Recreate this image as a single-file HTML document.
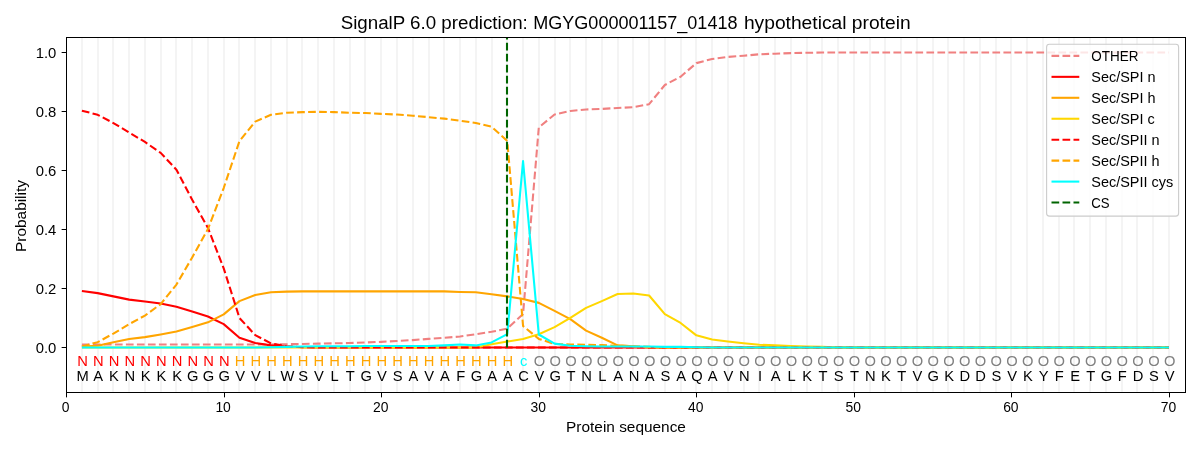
<!DOCTYPE html><html><head><meta charset="utf-8"><style>html,body{margin:0;padding:0;background:#fff;width:1200px;height:450px;overflow:hidden}svg{display:block;will-change:transform}text{font-family:"Liberation Sans",sans-serif}</style></head><body>
<svg width="1200" height="450" viewBox="0 0 1200 450">
<rect width="1200" height="450" fill="#fff"/>
<path d="M82.00 37.44V391.76 M98.00 37.44V391.76 M113.00 37.44V391.76 M129.00 37.44V391.76 M145.00 37.44V391.76 M161.00 37.44V391.76 M176.00 37.44V391.76 M192.00 37.44V391.76 M208.00 37.44V391.76 M224.00 37.44V391.76 M239.00 37.44V391.76 M255.00 37.44V391.76 M271.00 37.44V391.76 M287.00 37.44V391.76 M302.00 37.44V391.76 M318.00 37.44V391.76 M334.00 37.44V391.76 M350.00 37.44V391.76 M365.00 37.44V391.76 M381.00 37.44V391.76 M397.00 37.44V391.76 M413.00 37.44V391.76 M429.00 37.44V391.76 M444.00 37.44V391.76 M460.00 37.44V391.76 M476.00 37.44V391.76 M492.00 37.44V391.76 M507.00 37.44V391.76 M523.00 37.44V391.76 M539.00 37.44V391.76 M555.00 37.44V391.76 M570.00 37.44V391.76 M586.00 37.44V391.76 M602.00 37.44V391.76 M618.00 37.44V391.76 M633.00 37.44V391.76 M649.00 37.44V391.76 M665.00 37.44V391.76 M681.00 37.44V391.76 M696.00 37.44V391.76 M712.00 37.44V391.76 M728.00 37.44V391.76 M744.00 37.44V391.76 M759.00 37.44V391.76 M775.00 37.44V391.76 M791.00 37.44V391.76 M807.00 37.44V391.76 M822.00 37.44V391.76 M838.00 37.44V391.76 M854.00 37.44V391.76 M870.00 37.44V391.76 M885.00 37.44V391.76 M901.00 37.44V391.76 M917.00 37.44V391.76 M933.00 37.44V391.76 M948.00 37.44V391.76 M964.00 37.44V391.76 M980.00 37.44V391.76 M996.00 37.44V391.76 M1011.00 37.44V391.76 M1027.00 37.44V391.76 M1043.00 37.44V391.76 M1059.00 37.44V391.76 M1074.00 37.44V391.76 M1090.00 37.44V391.76 M1106.00 37.44V391.76 M1122.00 37.44V391.76 M1137.00 37.44V391.76 M1153.00 37.44V391.76 M1169.00 37.44V391.76" stroke="#f4f4f4" stroke-width="2" fill="none"/>
<polyline points="81.91,344.52 97.66,344.52 113.42,344.52 129.17,344.52 144.93,344.52 160.68,344.52 176.44,344.52 192.19,344.52 207.95,344.52 223.70,344.52 239.46,344.52 255.21,344.52 270.97,344.52 286.72,344.22 302.48,343.93 318.23,343.63 333.99,343.34 349.74,343.04 365.50,342.45 381.25,341.86 397.00,340.97 412.76,340.09 428.51,338.91 444.27,337.73 460.02,336.55 475.78,334.18 491.54,331.82 507.29,328.57 523.05,314.10 538.80,127.49 554.56,114.50 570.31,110.96 586.07,109.48 601.82,108.89 617.58,108.01 633.33,107.12 649.09,104.17 664.84,84.97 680.60,76.71 696.35,63.12 712.11,58.99 727.86,56.92 743.62,55.74 759.37,54.27 775.12,53.68 790.88,53.09 806.63,52.79 822.39,52.50 838.14,52.50 853.90,52.50 869.65,52.50 885.41,52.50 901.16,52.50 916.92,52.50 932.68,52.50 948.43,52.50 964.19,52.50 979.94,52.50 995.70,52.50 1011.45,52.50 1027.21,52.50 1042.96,52.50 1058.72,52.50 1074.47,52.50 1090.23,52.50 1105.98,52.50 1121.74,52.50 1137.49,52.50 1153.25,52.50 1169.00,52.50" fill="none" stroke="#f08080" stroke-width="2.08" stroke-linejoin="round" stroke-linecap="butt" stroke-dasharray="7.7 3.3"/>
<polyline points="81.91,291.07 97.66,293.14 113.42,296.39 129.17,299.64 144.93,301.41 160.68,303.47 176.44,306.72 192.19,311.45 207.95,316.47 223.70,324.14 239.46,337.73 255.21,343.04 270.97,345.40 286.72,346.58 302.48,347.17 318.23,347.47 333.99,347.47 349.74,347.47 365.50,347.47 381.25,347.47 397.00,347.47 412.76,347.47 428.51,347.47 444.27,347.47 460.02,347.47 475.78,347.47 491.54,347.47 507.29,347.47 523.05,347.47 538.80,347.47 554.56,347.47 570.31,347.47 586.07,347.47 601.82,347.47 617.58,347.47 633.33,347.47 649.09,347.47 664.84,347.47 680.60,347.47 696.35,347.47 712.11,347.47 727.86,347.47 743.62,347.47 759.37,347.47 775.12,347.47 790.88,347.47 806.63,347.47 822.39,347.47 838.14,347.47 853.90,347.47 869.65,347.47 885.41,347.47 901.16,347.47 916.92,347.47 932.68,347.47 948.43,347.47 964.19,347.47 979.94,347.47 995.70,347.47 1011.45,347.47 1027.21,347.47 1042.96,347.47 1058.72,347.47 1074.47,347.47 1090.23,347.47 1105.98,347.47 1121.74,347.47 1137.49,347.47 1153.25,347.47 1169.00,347.47" fill="none" stroke="#ff0000" stroke-width="2.08" stroke-linejoin="round" stroke-linecap="butt"/>
<polyline points="81.91,346.58 97.66,345.70 113.42,342.16 129.17,338.91 144.93,337.14 160.68,334.48 176.44,331.53 192.19,327.10 207.95,322.37 223.70,314.40 239.46,301.11 255.21,294.91 270.97,292.25 286.72,291.66 302.48,291.37 318.23,291.37 333.99,291.37 349.74,291.37 365.50,291.37 381.25,291.37 397.00,291.37 412.76,291.37 428.51,291.37 444.27,291.37 460.02,291.96 475.78,292.25 491.54,294.32 507.29,296.39 523.05,299.05 538.80,302.88 554.56,310.86 570.31,319.12 586.07,330.64 601.82,337.73 617.58,345.40 633.33,346.29 649.09,347.47 664.84,347.47 680.60,347.47 696.35,347.47 712.11,347.47 727.86,347.47 743.62,347.47 759.37,347.47 775.12,347.47 790.88,347.47 806.63,347.47 822.39,347.47 838.14,347.47 853.90,347.47 869.65,347.47 885.41,347.47 901.16,347.47 916.92,347.47 932.68,347.47 948.43,347.47 964.19,347.47 979.94,347.47 995.70,347.47 1011.45,347.47 1027.21,347.47 1042.96,347.47 1058.72,347.47 1074.47,347.47 1090.23,347.47 1105.98,347.47 1121.74,347.47 1137.49,347.47 1153.25,347.47 1169.00,347.47" fill="none" stroke="#ffa500" stroke-width="2.08" stroke-linejoin="round" stroke-linecap="butt"/>
<polyline points="81.91,347.47 97.66,347.47 113.42,347.47 129.17,347.47 144.93,347.47 160.68,347.47 176.44,347.47 192.19,347.47 207.95,347.47 223.70,347.47 239.46,347.47 255.21,347.47 270.97,347.47 286.72,347.47 302.48,347.47 318.23,347.47 333.99,347.47 349.74,347.47 365.50,347.47 381.25,347.47 397.00,347.47 412.76,347.47 428.51,347.47 444.27,347.47 460.02,347.47 475.78,347.47 491.54,344.22 507.29,341.56 523.05,338.91 538.80,334.18 554.56,327.10 570.31,317.94 586.07,307.90 601.82,301.11 617.58,294.03 633.33,293.44 649.09,295.50 664.84,314.10 680.60,322.96 696.35,335.36 712.11,339.50 727.86,341.56 743.62,343.34 759.37,344.81 775.12,345.40 790.88,345.99 806.63,346.58 822.39,346.88 838.14,347.47 853.90,347.47 869.65,347.47 885.41,347.47 901.16,347.47 916.92,347.47 932.68,347.47 948.43,347.47 964.19,347.47 979.94,347.47 995.70,347.47 1011.45,347.47 1027.21,347.47 1042.96,347.47 1058.72,347.47 1074.47,347.47 1090.23,347.47 1105.98,347.47 1121.74,347.47 1137.49,347.47 1153.25,347.47 1169.00,347.47" fill="none" stroke="#ffd700" stroke-width="2.08" stroke-linejoin="round" stroke-linecap="butt"/>
<polyline points="81.91,110.66 97.66,114.80 113.42,123.06 129.17,132.51 144.93,141.96 160.68,152.89 176.44,169.72 192.19,199.84 207.95,227.89 223.70,268.34 239.46,317.94 255.21,335.07 270.97,343.34 286.72,346.29 302.48,347.17 318.23,347.47 333.99,347.47 349.74,347.47 365.50,347.47 381.25,347.47 397.00,347.47 412.76,347.47 428.51,347.47 444.27,347.47 460.02,347.47 475.78,347.47 491.54,347.47 507.29,347.47 523.05,347.47 538.80,347.47 554.56,347.47 570.31,347.47 586.07,347.47 601.82,347.47 617.58,347.47 633.33,347.47 649.09,347.47 664.84,347.47 680.60,347.47 696.35,347.47 712.11,347.47 727.86,347.47 743.62,347.47 759.37,347.47 775.12,347.47 790.88,347.47 806.63,347.47 822.39,347.47 838.14,347.47 853.90,347.47 869.65,347.47 885.41,347.47 901.16,347.47 916.92,347.47 932.68,347.47 948.43,347.47 964.19,347.47 979.94,347.47 995.70,347.47 1011.45,347.47 1027.21,347.47 1042.96,347.47 1058.72,347.47 1074.47,347.47 1090.23,347.47 1105.98,347.47 1121.74,347.47 1137.49,347.47 1153.25,347.47 1169.00,347.47" fill="none" stroke="#ff0000" stroke-width="2.08" stroke-linejoin="round" stroke-linecap="butt" stroke-dasharray="7.7 3.3"/>
<polyline points="81.91,346.58 97.66,342.16 113.42,333.59 129.17,324.14 144.93,315.58 160.68,304.07 176.44,284.58 192.19,257.41 207.95,229.07 223.70,188.02 239.46,141.08 255.21,121.59 270.97,114.80 286.72,112.73 302.48,112.14 318.23,111.84 333.99,112.14 349.74,112.73 365.50,113.03 381.25,113.91 397.00,114.50 412.76,115.68 428.51,117.16 444.27,118.64 460.02,120.70 475.78,123.06 491.54,126.61 507.29,141.08 523.05,325.92 538.80,338.91 554.56,343.93 570.31,344.52 586.07,344.81 601.82,345.11 617.58,345.70 633.33,346.29 649.09,346.88 664.84,347.47 680.60,347.47 696.35,347.47 712.11,347.47 727.86,347.47 743.62,347.47 759.37,347.47 775.12,347.47 790.88,347.47 806.63,347.47 822.39,347.47 838.14,347.47 853.90,347.47 869.65,347.47 885.41,347.47 901.16,347.47 916.92,347.47 932.68,347.47 948.43,347.47 964.19,347.47 979.94,347.47 995.70,347.47 1011.45,347.47 1027.21,347.47 1042.96,347.47 1058.72,347.47 1074.47,347.47 1090.23,347.47 1105.98,347.47 1121.74,347.47 1137.49,347.47 1153.25,347.47 1169.00,347.47" fill="none" stroke="#ffa500" stroke-width="2.08" stroke-linejoin="round" stroke-linecap="butt" stroke-dasharray="7.7 3.3"/>
<polyline points="81.91,347.47 97.66,347.47 113.42,347.47 129.17,347.47 144.93,347.47 160.68,347.47 176.44,347.47 192.19,347.47 207.95,347.47 223.70,347.47 239.46,347.47 255.21,347.47 270.97,347.17 286.72,346.88 302.48,346.58 318.23,346.29 333.99,346.29 349.74,346.29 365.50,345.99 381.25,345.99 397.00,345.99 412.76,345.99 428.51,345.99 444.27,345.40 460.02,344.52 475.78,345.40 491.54,342.45 507.29,334.18 523.05,161.15 538.80,334.48 554.56,343.63 570.31,345.70 586.07,346.29 601.82,346.58 617.58,346.58 633.33,346.58 649.09,346.58 664.84,346.88 680.60,346.88 696.35,347.17 712.11,347.47 727.86,347.47 743.62,347.47 759.37,347.47 775.12,347.47 790.88,347.47 806.63,347.47 822.39,347.47 838.14,347.47 853.90,347.47 869.65,347.47 885.41,347.47 901.16,347.47 916.92,347.47 932.68,347.47 948.43,347.47 964.19,347.47 979.94,347.47 995.70,347.47 1011.45,347.47 1027.21,347.47 1042.96,347.47 1058.72,347.47 1074.47,347.47 1090.23,347.47 1105.98,347.47 1121.74,347.47 1137.49,347.47 1153.25,347.47 1169.00,347.47" fill="none" stroke="#00ffff" stroke-width="2.08" stroke-linejoin="round" stroke-linecap="butt"/>
<path d="M507.00 347.47V37.44" stroke="#006400" stroke-width="2.08" stroke-dasharray="7.7 3.3" fill="none"/>
<text transform="translate(82.50,365.90) scale(1.0600,1)" font-size="13.89" fill="#ff0000" text-anchor="middle">N</text>
<text transform="translate(82.50,381.00) scale(1.0600,1)" font-size="13.89" fill="#000" text-anchor="middle">M</text>
<text transform="translate(98.26,365.90) scale(1.0600,1)" font-size="13.89" fill="#ff0000" text-anchor="middle">N</text>
<text transform="translate(98.26,381.00) scale(1.0600,1)" font-size="13.89" fill="#000" text-anchor="middle">A</text>
<text transform="translate(114.02,365.90) scale(1.0600,1)" font-size="13.89" fill="#ff0000" text-anchor="middle">N</text>
<text transform="translate(114.02,381.00) scale(1.0600,1)" font-size="13.89" fill="#000" text-anchor="middle">K</text>
<text transform="translate(129.77,365.90) scale(1.0600,1)" font-size="13.89" fill="#ff0000" text-anchor="middle">N</text>
<text transform="translate(129.77,381.00) scale(1.0600,1)" font-size="13.89" fill="#000" text-anchor="middle">N</text>
<text transform="translate(145.53,365.90) scale(1.0600,1)" font-size="13.89" fill="#ff0000" text-anchor="middle">N</text>
<text transform="translate(145.53,381.00) scale(1.0600,1)" font-size="13.89" fill="#000" text-anchor="middle">K</text>
<text transform="translate(161.28,365.90) scale(1.0600,1)" font-size="13.89" fill="#ff0000" text-anchor="middle">N</text>
<text transform="translate(161.28,381.00) scale(1.0600,1)" font-size="13.89" fill="#000" text-anchor="middle">K</text>
<text transform="translate(177.03,365.90) scale(1.0600,1)" font-size="13.89" fill="#ff0000" text-anchor="middle">N</text>
<text transform="translate(177.03,381.00) scale(1.0600,1)" font-size="13.89" fill="#000" text-anchor="middle">K</text>
<text transform="translate(192.79,365.90) scale(1.0600,1)" font-size="13.89" fill="#ff0000" text-anchor="middle">N</text>
<text transform="translate(192.79,381.00) scale(1.0600,1)" font-size="13.89" fill="#000" text-anchor="middle">G</text>
<text transform="translate(208.55,365.90) scale(1.0600,1)" font-size="13.89" fill="#ff0000" text-anchor="middle">N</text>
<text transform="translate(208.55,381.00) scale(1.0600,1)" font-size="13.89" fill="#000" text-anchor="middle">G</text>
<text transform="translate(224.30,365.90) scale(1.0600,1)" font-size="13.89" fill="#ff0000" text-anchor="middle">N</text>
<text transform="translate(224.30,381.00) scale(1.0600,1)" font-size="13.89" fill="#000" text-anchor="middle">G</text>
<text transform="translate(240.06,365.90) scale(1.0600,1)" font-size="13.89" fill="#ffa500" text-anchor="middle">H</text>
<text transform="translate(240.06,381.00) scale(1.0600,1)" font-size="13.89" fill="#000" text-anchor="middle">V</text>
<text transform="translate(255.81,365.90) scale(1.0600,1)" font-size="13.89" fill="#ffa500" text-anchor="middle">H</text>
<text transform="translate(255.81,381.00) scale(1.0600,1)" font-size="13.89" fill="#000" text-anchor="middle">V</text>
<text transform="translate(271.57,365.90) scale(1.0600,1)" font-size="13.89" fill="#ffa500" text-anchor="middle">H</text>
<text transform="translate(271.57,381.00) scale(1.0600,1)" font-size="13.89" fill="#000" text-anchor="middle">L</text>
<text transform="translate(287.32,365.90) scale(1.0600,1)" font-size="13.89" fill="#ffa500" text-anchor="middle">H</text>
<text transform="translate(287.32,381.00) scale(1.0600,1)" font-size="13.89" fill="#000" text-anchor="middle">W</text>
<text transform="translate(303.08,365.90) scale(1.0600,1)" font-size="13.89" fill="#ffa500" text-anchor="middle">H</text>
<text transform="translate(303.08,381.00) scale(1.0600,1)" font-size="13.89" fill="#000" text-anchor="middle">S</text>
<text transform="translate(318.83,365.90) scale(1.0600,1)" font-size="13.89" fill="#ffa500" text-anchor="middle">H</text>
<text transform="translate(318.83,381.00) scale(1.0600,1)" font-size="13.89" fill="#000" text-anchor="middle">V</text>
<text transform="translate(334.59,365.90) scale(1.0600,1)" font-size="13.89" fill="#ffa500" text-anchor="middle">H</text>
<text transform="translate(334.59,381.00) scale(1.0600,1)" font-size="13.89" fill="#000" text-anchor="middle">L</text>
<text transform="translate(350.34,365.90) scale(1.0600,1)" font-size="13.89" fill="#ffa500" text-anchor="middle">H</text>
<text transform="translate(350.34,381.00) scale(1.0600,1)" font-size="13.89" fill="#000" text-anchor="middle">T</text>
<text transform="translate(366.10,365.90) scale(1.0600,1)" font-size="13.89" fill="#ffa500" text-anchor="middle">H</text>
<text transform="translate(366.10,381.00) scale(1.0600,1)" font-size="13.89" fill="#000" text-anchor="middle">G</text>
<text transform="translate(381.85,365.90) scale(1.0600,1)" font-size="13.89" fill="#ffa500" text-anchor="middle">H</text>
<text transform="translate(381.85,381.00) scale(1.0600,1)" font-size="13.89" fill="#000" text-anchor="middle">V</text>
<text transform="translate(397.61,365.90) scale(1.0600,1)" font-size="13.89" fill="#ffa500" text-anchor="middle">H</text>
<text transform="translate(397.61,381.00) scale(1.0600,1)" font-size="13.89" fill="#000" text-anchor="middle">S</text>
<text transform="translate(413.36,365.90) scale(1.0600,1)" font-size="13.89" fill="#ffa500" text-anchor="middle">H</text>
<text transform="translate(413.36,381.00) scale(1.0600,1)" font-size="13.89" fill="#000" text-anchor="middle">A</text>
<text transform="translate(429.12,365.90) scale(1.0600,1)" font-size="13.89" fill="#ffa500" text-anchor="middle">H</text>
<text transform="translate(429.12,381.00) scale(1.0600,1)" font-size="13.89" fill="#000" text-anchor="middle">V</text>
<text transform="translate(444.87,365.90) scale(1.0600,1)" font-size="13.89" fill="#ffa500" text-anchor="middle">H</text>
<text transform="translate(444.87,381.00) scale(1.0600,1)" font-size="13.89" fill="#000" text-anchor="middle">A</text>
<text transform="translate(460.62,365.90) scale(1.0600,1)" font-size="13.89" fill="#ffa500" text-anchor="middle">H</text>
<text transform="translate(460.62,381.00) scale(1.0600,1)" font-size="13.89" fill="#000" text-anchor="middle">F</text>
<text transform="translate(476.38,365.90) scale(1.0600,1)" font-size="13.89" fill="#ffa500" text-anchor="middle">H</text>
<text transform="translate(476.38,381.00) scale(1.0600,1)" font-size="13.89" fill="#000" text-anchor="middle">G</text>
<text transform="translate(492.14,365.90) scale(1.0600,1)" font-size="13.89" fill="#ffa500" text-anchor="middle">H</text>
<text transform="translate(492.14,381.00) scale(1.0600,1)" font-size="13.89" fill="#000" text-anchor="middle">A</text>
<text transform="translate(507.89,365.90) scale(1.0600,1)" font-size="13.89" fill="#ffa500" text-anchor="middle">H</text>
<text transform="translate(507.89,381.00) scale(1.0600,1)" font-size="13.89" fill="#000" text-anchor="middle">A</text>
<text transform="translate(523.65,365.90) scale(1.0600,1)" font-size="13.89" fill="#00ffff" text-anchor="middle">c</text>
<text transform="translate(523.65,381.00) scale(1.0600,1)" font-size="13.89" fill="#000" text-anchor="middle">C</text>
<text transform="translate(539.40,365.90) scale(1.0600,1)" font-size="13.89" fill="#808080" text-anchor="middle">O</text>
<text transform="translate(539.40,381.00) scale(1.0600,1)" font-size="13.89" fill="#000" text-anchor="middle">V</text>
<text transform="translate(555.16,365.90) scale(1.0600,1)" font-size="13.89" fill="#808080" text-anchor="middle">O</text>
<text transform="translate(555.16,381.00) scale(1.0600,1)" font-size="13.89" fill="#000" text-anchor="middle">G</text>
<text transform="translate(570.91,365.90) scale(1.0600,1)" font-size="13.89" fill="#808080" text-anchor="middle">O</text>
<text transform="translate(570.91,381.00) scale(1.0600,1)" font-size="13.89" fill="#000" text-anchor="middle">T</text>
<text transform="translate(586.67,365.90) scale(1.0600,1)" font-size="13.89" fill="#808080" text-anchor="middle">O</text>
<text transform="translate(586.67,381.00) scale(1.0600,1)" font-size="13.89" fill="#000" text-anchor="middle">N</text>
<text transform="translate(602.42,365.90) scale(1.0600,1)" font-size="13.89" fill="#808080" text-anchor="middle">O</text>
<text transform="translate(602.42,381.00) scale(1.0600,1)" font-size="13.89" fill="#000" text-anchor="middle">L</text>
<text transform="translate(618.18,365.90) scale(1.0600,1)" font-size="13.89" fill="#808080" text-anchor="middle">O</text>
<text transform="translate(618.18,381.00) scale(1.0600,1)" font-size="13.89" fill="#000" text-anchor="middle">A</text>
<text transform="translate(633.93,365.90) scale(1.0600,1)" font-size="13.89" fill="#808080" text-anchor="middle">O</text>
<text transform="translate(633.93,381.00) scale(1.0600,1)" font-size="13.89" fill="#000" text-anchor="middle">N</text>
<text transform="translate(649.69,365.90) scale(1.0600,1)" font-size="13.89" fill="#808080" text-anchor="middle">O</text>
<text transform="translate(649.69,381.00) scale(1.0600,1)" font-size="13.89" fill="#000" text-anchor="middle">A</text>
<text transform="translate(665.44,365.90) scale(1.0600,1)" font-size="13.89" fill="#808080" text-anchor="middle">O</text>
<text transform="translate(665.44,381.00) scale(1.0600,1)" font-size="13.89" fill="#000" text-anchor="middle">S</text>
<text transform="translate(681.20,365.90) scale(1.0600,1)" font-size="13.89" fill="#808080" text-anchor="middle">O</text>
<text transform="translate(681.20,381.00) scale(1.0600,1)" font-size="13.89" fill="#000" text-anchor="middle">A</text>
<text transform="translate(696.95,365.90) scale(1.0600,1)" font-size="13.89" fill="#808080" text-anchor="middle">O</text>
<text transform="translate(696.95,381.00) scale(1.0600,1)" font-size="13.89" fill="#000" text-anchor="middle">Q</text>
<text transform="translate(712.71,365.90) scale(1.0600,1)" font-size="13.89" fill="#808080" text-anchor="middle">O</text>
<text transform="translate(712.71,381.00) scale(1.0600,1)" font-size="13.89" fill="#000" text-anchor="middle">A</text>
<text transform="translate(728.46,365.90) scale(1.0600,1)" font-size="13.89" fill="#808080" text-anchor="middle">O</text>
<text transform="translate(728.46,381.00) scale(1.0600,1)" font-size="13.89" fill="#000" text-anchor="middle">V</text>
<text transform="translate(744.22,365.90) scale(1.0600,1)" font-size="13.89" fill="#808080" text-anchor="middle">O</text>
<text transform="translate(744.22,381.00) scale(1.0600,1)" font-size="13.89" fill="#000" text-anchor="middle">N</text>
<text transform="translate(759.97,365.90) scale(1.0600,1)" font-size="13.89" fill="#808080" text-anchor="middle">O</text>
<text transform="translate(759.97,381.00) scale(1.0600,1)" font-size="13.89" fill="#000" text-anchor="middle">I</text>
<text transform="translate(775.73,365.90) scale(1.0600,1)" font-size="13.89" fill="#808080" text-anchor="middle">O</text>
<text transform="translate(775.73,381.00) scale(1.0600,1)" font-size="13.89" fill="#000" text-anchor="middle">A</text>
<text transform="translate(791.48,365.90) scale(1.0600,1)" font-size="13.89" fill="#808080" text-anchor="middle">O</text>
<text transform="translate(791.48,381.00) scale(1.0600,1)" font-size="13.89" fill="#000" text-anchor="middle">L</text>
<text transform="translate(807.24,365.90) scale(1.0600,1)" font-size="13.89" fill="#808080" text-anchor="middle">O</text>
<text transform="translate(807.24,381.00) scale(1.0600,1)" font-size="13.89" fill="#000" text-anchor="middle">K</text>
<text transform="translate(822.99,365.90) scale(1.0600,1)" font-size="13.89" fill="#808080" text-anchor="middle">O</text>
<text transform="translate(822.99,381.00) scale(1.0600,1)" font-size="13.89" fill="#000" text-anchor="middle">T</text>
<text transform="translate(838.75,365.90) scale(1.0600,1)" font-size="13.89" fill="#808080" text-anchor="middle">O</text>
<text transform="translate(838.75,381.00) scale(1.0600,1)" font-size="13.89" fill="#000" text-anchor="middle">S</text>
<text transform="translate(854.50,365.90) scale(1.0600,1)" font-size="13.89" fill="#808080" text-anchor="middle">O</text>
<text transform="translate(854.50,381.00) scale(1.0600,1)" font-size="13.89" fill="#000" text-anchor="middle">T</text>
<text transform="translate(870.25,365.90) scale(1.0600,1)" font-size="13.89" fill="#808080" text-anchor="middle">O</text>
<text transform="translate(870.25,381.00) scale(1.0600,1)" font-size="13.89" fill="#000" text-anchor="middle">N</text>
<text transform="translate(886.01,365.90) scale(1.0600,1)" font-size="13.89" fill="#808080" text-anchor="middle">O</text>
<text transform="translate(886.01,381.00) scale(1.0600,1)" font-size="13.89" fill="#000" text-anchor="middle">K</text>
<text transform="translate(901.76,365.90) scale(1.0600,1)" font-size="13.89" fill="#808080" text-anchor="middle">O</text>
<text transform="translate(901.76,381.00) scale(1.0600,1)" font-size="13.89" fill="#000" text-anchor="middle">T</text>
<text transform="translate(917.52,365.90) scale(1.0600,1)" font-size="13.89" fill="#808080" text-anchor="middle">O</text>
<text transform="translate(917.52,381.00) scale(1.0600,1)" font-size="13.89" fill="#000" text-anchor="middle">V</text>
<text transform="translate(933.28,365.90) scale(1.0600,1)" font-size="13.89" fill="#808080" text-anchor="middle">O</text>
<text transform="translate(933.28,381.00) scale(1.0600,1)" font-size="13.89" fill="#000" text-anchor="middle">G</text>
<text transform="translate(949.03,365.90) scale(1.0600,1)" font-size="13.89" fill="#808080" text-anchor="middle">O</text>
<text transform="translate(949.03,381.00) scale(1.0600,1)" font-size="13.89" fill="#000" text-anchor="middle">K</text>
<text transform="translate(964.79,365.90) scale(1.0600,1)" font-size="13.89" fill="#808080" text-anchor="middle">O</text>
<text transform="translate(964.79,381.00) scale(1.0600,1)" font-size="13.89" fill="#000" text-anchor="middle">D</text>
<text transform="translate(980.54,365.90) scale(1.0600,1)" font-size="13.89" fill="#808080" text-anchor="middle">O</text>
<text transform="translate(980.54,381.00) scale(1.0600,1)" font-size="13.89" fill="#000" text-anchor="middle">D</text>
<text transform="translate(996.30,365.90) scale(1.0600,1)" font-size="13.89" fill="#808080" text-anchor="middle">O</text>
<text transform="translate(996.30,381.00) scale(1.0600,1)" font-size="13.89" fill="#000" text-anchor="middle">S</text>
<text transform="translate(1012.05,365.90) scale(1.0600,1)" font-size="13.89" fill="#808080" text-anchor="middle">O</text>
<text transform="translate(1012.05,381.00) scale(1.0600,1)" font-size="13.89" fill="#000" text-anchor="middle">V</text>
<text transform="translate(1027.81,365.90) scale(1.0600,1)" font-size="13.89" fill="#808080" text-anchor="middle">O</text>
<text transform="translate(1027.81,381.00) scale(1.0600,1)" font-size="13.89" fill="#000" text-anchor="middle">K</text>
<text transform="translate(1043.56,365.90) scale(1.0600,1)" font-size="13.89" fill="#808080" text-anchor="middle">O</text>
<text transform="translate(1043.56,381.00) scale(1.0600,1)" font-size="13.89" fill="#000" text-anchor="middle">Y</text>
<text transform="translate(1059.32,365.90) scale(1.0600,1)" font-size="13.89" fill="#808080" text-anchor="middle">O</text>
<text transform="translate(1059.32,381.00) scale(1.0600,1)" font-size="13.89" fill="#000" text-anchor="middle">F</text>
<text transform="translate(1075.07,365.90) scale(1.0600,1)" font-size="13.89" fill="#808080" text-anchor="middle">O</text>
<text transform="translate(1075.07,381.00) scale(1.0600,1)" font-size="13.89" fill="#000" text-anchor="middle">E</text>
<text transform="translate(1090.83,365.90) scale(1.0600,1)" font-size="13.89" fill="#808080" text-anchor="middle">O</text>
<text transform="translate(1090.83,381.00) scale(1.0600,1)" font-size="13.89" fill="#000" text-anchor="middle">T</text>
<text transform="translate(1106.58,365.90) scale(1.0600,1)" font-size="13.89" fill="#808080" text-anchor="middle">O</text>
<text transform="translate(1106.58,381.00) scale(1.0600,1)" font-size="13.89" fill="#000" text-anchor="middle">G</text>
<text transform="translate(1122.34,365.90) scale(1.0600,1)" font-size="13.89" fill="#808080" text-anchor="middle">O</text>
<text transform="translate(1122.34,381.00) scale(1.0600,1)" font-size="13.89" fill="#000" text-anchor="middle">F</text>
<text transform="translate(1138.09,365.90) scale(1.0600,1)" font-size="13.89" fill="#808080" text-anchor="middle">O</text>
<text transform="translate(1138.09,381.00) scale(1.0600,1)" font-size="13.89" fill="#000" text-anchor="middle">D</text>
<text transform="translate(1153.85,365.90) scale(1.0600,1)" font-size="13.89" fill="#808080" text-anchor="middle">O</text>
<text transform="translate(1153.85,381.00) scale(1.0600,1)" font-size="13.89" fill="#000" text-anchor="middle">S</text>
<text transform="translate(1169.60,365.90) scale(1.0600,1)" font-size="13.89" fill="#808080" text-anchor="middle">O</text>
<text transform="translate(1169.60,381.00) scale(1.0600,1)" font-size="13.89" fill="#000" text-anchor="middle">V</text>
<rect x="66.50" y="37.50" width="1119.00" height="355.00" fill="none" stroke="#000" stroke-width="1.0"/>
<text transform="translate(56.30,353.27) scale(1.0700,1)" font-size="13.89" fill="#000" text-anchor="end">0.0</text>
<text transform="translate(56.30,294.22) scale(1.0700,1)" font-size="13.89" fill="#000" text-anchor="end">0.2</text>
<text transform="translate(56.30,235.16) scale(1.0700,1)" font-size="13.89" fill="#000" text-anchor="end">0.4</text>
<text transform="translate(56.30,176.11) scale(1.0700,1)" font-size="13.89" fill="#000" text-anchor="end">0.6</text>
<text transform="translate(56.30,117.05) scale(1.0700,1)" font-size="13.89" fill="#000" text-anchor="end">0.8</text>
<text transform="translate(56.30,58.00) scale(1.0700,1)" font-size="13.89" fill="#000" text-anchor="end">1.0</text>
<text x="65.55" y="412" font-size="13.89" fill="#000" text-anchor="middle">0</text>
<text x="223.10" y="412" font-size="13.89" fill="#000" text-anchor="middle">10</text>
<text x="380.65" y="412" font-size="13.89" fill="#000" text-anchor="middle">20</text>
<text x="538.20" y="412" font-size="13.89" fill="#000" text-anchor="middle">30</text>
<text x="695.75" y="412" font-size="13.89" fill="#000" text-anchor="middle">40</text>
<text x="853.30" y="412" font-size="13.89" fill="#000" text-anchor="middle">50</text>
<text x="1010.85" y="412" font-size="13.89" fill="#000" text-anchor="middle">60</text>
<text x="1168.40" y="412" font-size="13.89" fill="#000" text-anchor="middle">70</text>
<path d="M66.50 347.50H61.64 M66.50 288.50H61.64 M66.50 229.50H61.64 M66.50 170.50H61.64 M66.50 111.50H61.64 M66.50 52.50H61.64 M66.50 392.50V397.36 M224.50 392.50V397.36 M381.50 392.50V397.36 M539.50 392.50V397.36 M696.50 392.50V397.36 M854.50 392.50V397.36 M1011.50 392.50V397.36 M1169.50 392.50V397.36" stroke="#000" stroke-width="1.0" fill="none"/>
<text transform="translate(626.00,431.80) scale(1.1100,1)" font-size="13.89" fill="#000" text-anchor="middle">Protein sequence</text>
<text transform="translate(25.90,216.00) rotate(-90) scale(1.1100,1)" font-size="13.89" fill="#000" text-anchor="middle">Probability</text>
<text transform="translate(340.63,28.70) scale(1.0653,1)" font-size="17.60" fill="#000" text-anchor="start">SignalP 6.0 prediction:</text>
<text transform="translate(533.27,28.70) scale(1.0253,1)" font-size="17.60" fill="#000" text-anchor="start">MGYG000001157_01418</text>
<text transform="translate(743.91,28.70) scale(1.0927,1)" font-size="17.60" fill="#000" text-anchor="start">hypothetical protein</text>
<rect x="1046.60" y="44.30" width="132.00" height="171.80" rx="2.8" ry="2.8" fill="#fff" fill-opacity="0.8" stroke="#cccccc" stroke-width="1.11"/>
<path d="M1051.5 55.90H1079.3" stroke="#f08080" stroke-width="2.08" fill="none" stroke-dasharray="7.7 3.3"/>
<text transform="translate(1091.30,60.90) scale(0.9700,1)" font-size="13.89" fill="#000" text-anchor="start">OTHER</text>
<path d="M1051.5 76.85H1079.3" stroke="#ff0000" stroke-width="2.08" fill="none"/>
<text transform="translate(1091.30,81.85) scale(1.0400,1)" font-size="13.89" fill="#000" text-anchor="start">Sec/SPI n</text>
<path d="M1051.5 97.80H1079.3" stroke="#ffa500" stroke-width="2.08" fill="none"/>
<text transform="translate(1091.30,102.80) scale(1.0400,1)" font-size="13.89" fill="#000" text-anchor="start">Sec/SPI h</text>
<path d="M1051.5 118.75H1079.3" stroke="#ffd700" stroke-width="2.08" fill="none"/>
<text transform="translate(1091.30,123.75) scale(1.0400,1)" font-size="13.89" fill="#000" text-anchor="start">Sec/SPI c</text>
<path d="M1051.5 139.70H1079.3" stroke="#ff0000" stroke-width="2.08" fill="none" stroke-dasharray="7.7 3.3"/>
<text transform="translate(1091.30,144.70) scale(1.0400,1)" font-size="13.89" fill="#000" text-anchor="start">Sec/SPII n</text>
<path d="M1051.5 160.65H1079.3" stroke="#ffa500" stroke-width="2.08" fill="none" stroke-dasharray="7.7 3.3"/>
<text transform="translate(1091.30,165.65) scale(1.0400,1)" font-size="13.89" fill="#000" text-anchor="start">Sec/SPII h</text>
<path d="M1051.5 181.60H1079.3" stroke="#00ffff" stroke-width="2.08" fill="none"/>
<text transform="translate(1091.30,186.60) scale(1.0400,1)" font-size="13.89" fill="#000" text-anchor="start">Sec/SPII cys</text>
<path d="M1051.5 202.55H1079.3" stroke="#006400" stroke-width="2.08" fill="none" stroke-dasharray="7.7 3.3"/>
<text transform="translate(1091.30,207.55) scale(0.9500,1)" font-size="13.89" fill="#000" text-anchor="start">CS</text>
</svg></body></html>
